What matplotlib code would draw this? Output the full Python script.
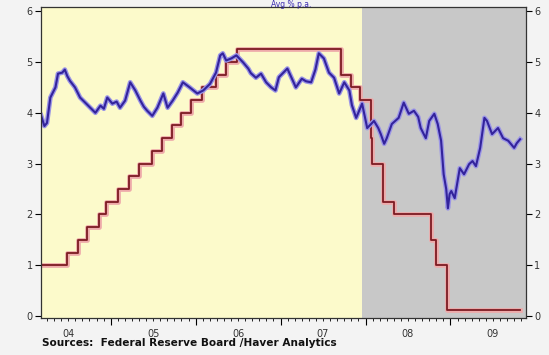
import matplotlib
matplotlib.use("Agg")
import matplotlib.pyplot as plt
import matplotlib.patheffects as pe
import numpy as np

# 10-year Treasury yield, % (decimal year, value)
tsy_year = [
    2004.18, 2004.22, 2004.25, 2004.29, 2004.35, 2004.38, 2004.43, 2004.46,
    2004.49, 2004.52, 2004.58, 2004.64, 2004.70, 2004.76, 2004.82, 2004.88,
    2004.92, 2004.96, 2005.02, 2005.07, 2005.11, 2005.17, 2005.23, 2005.29,
    2005.35, 2005.39, 2005.43, 2005.49, 2005.55, 2005.62, 2005.67, 2005.73,
    2005.79, 2005.85, 2005.93, 2006.02, 2006.09, 2006.17, 2006.24, 2006.29,
    2006.32, 2006.36, 2006.42, 2006.48, 2006.56, 2006.62, 2006.65, 2006.71,
    2006.77, 2006.83, 2006.89, 2006.94, 2006.98, 2007.08, 2007.14, 2007.18,
    2007.25, 2007.30, 2007.36, 2007.41, 2007.45, 2007.51, 2007.57, 2007.63,
    2007.69, 2007.75, 2007.81, 2007.84, 2007.89, 2007.96, 2008.02, 2008.10,
    2008.15, 2008.18, 2008.22, 2008.25, 2008.31, 2008.39, 2008.45, 2008.51,
    2008.57, 2008.62, 2008.65, 2008.71, 2008.75, 2008.81, 2008.85, 2008.89,
    2008.92, 2008.95, 2008.97, 2008.99, 2009.01, 2009.05, 2009.11, 2009.16,
    2009.22, 2009.26, 2009.30, 2009.35, 2009.40, 2009.43, 2009.49, 2009.56,
    2009.62, 2009.68, 2009.75, 2009.78, 2009.82,
]
tsy_rate = [
    3.95, 3.74, 3.80, 4.30, 4.50, 4.77, 4.79, 4.85,
    4.72, 4.63, 4.50, 4.30, 4.20, 4.10, 4.00, 4.14,
    4.08, 4.30, 4.18, 4.22, 4.10, 4.24, 4.60, 4.44,
    4.24, 4.12, 4.04, 3.94, 4.10, 4.38, 4.10, 4.24,
    4.40, 4.60, 4.50, 4.38, 4.44, 4.57, 4.79, 5.13,
    5.17, 5.03, 5.07, 5.13, 4.99, 4.87, 4.78, 4.69,
    4.77, 4.60, 4.50, 4.44, 4.70, 4.87, 4.65, 4.50,
    4.67, 4.62, 4.60, 4.85, 5.17, 5.07, 4.79, 4.69,
    4.38, 4.60, 4.44, 4.15, 3.90, 4.18, 3.70, 3.84,
    3.70, 3.58, 3.39, 3.50, 3.78, 3.90, 4.20, 3.98,
    4.04, 3.92, 3.70, 3.50, 3.84, 3.98, 3.78, 3.45,
    2.79, 2.50, 2.12, 2.40, 2.46, 2.32, 2.91, 2.79,
    2.99, 3.05, 2.95, 3.31, 3.90, 3.84, 3.58, 3.70,
    3.50, 3.45, 3.31, 3.40, 3.48,
]

# Federal funds target rate, % (change dates as decimal years)
ff_year = [
    2004.18, 2004.49, 2004.61, 2004.72, 2004.86, 2004.95, 2005.09, 2005.22,
    2005.33, 2005.49, 2005.60, 2005.72, 2005.83, 2005.95, 2006.08, 2006.24,
    2006.36, 2006.49, 2007.71, 2007.83, 2007.94, 2008.06, 2008.08, 2008.21,
    2008.33, 2008.77, 2008.83, 2008.96, 2009.82,
]
ff_rate = [
    1.00, 1.25, 1.50, 1.75, 2.00, 2.25, 2.50, 2.75,
    3.00, 3.25, 3.50, 3.75, 4.00, 4.25, 4.50, 4.75,
    5.00, 5.25, 4.75, 4.50, 4.25, 3.50, 3.00, 2.25,
    2.00, 1.50, 1.00, 0.125, 0.125,
]

year_labels = ["04", "05", "06", "07", "08", "09"]
recession_start = 2007.96

x_min, x_max = 2004.18, 2009.89

fig = plt.figure(figsize=(5.49, 3.55), dpi=100, facecolor="#f3f3f3")
ax = fig.add_axes([0.0747, 0.104, 0.8835, 0.876])

ax.axvspan(x_min, recession_start, color="#fcfacb", lw=0)
ax.axvspan(recession_start, x_max, color="#c8c8c8", lw=0)

ax.step(ff_year, ff_rate, where="post", color="#7d1a22", lw=1.3,
        path_effects=[pe.Stroke(linewidth=3.4, foreground="#eeaaaa"), pe.Normal()])
ax.plot(tsy_year, tsy_rate, color="#33239c", lw=1.5,
        path_effects=[pe.Stroke(linewidth=3.4, foreground="#9a94e6"), pe.Normal()])

ax.set_xlim(x_min, x_max)
ax.set_ylim(-0.04, 6.08)

ax.set_yticks(range(0, 7))
ax.tick_params(axis="y", which="both", direction="out", length=4, width=0.8,
               labelsize=7, labelcolor="#333333", left=True, right=True,
               labelleft=True, labelright=True, pad=2)

ax.set_xticks(np.arange(2005, 2010), labels=[])
ax.set_xticks(np.arange(2004.25, 2009.9, 1 / 12), minor=True)
ax.tick_params(axis="x", which="major", direction="out", length=5, width=0.8)
ax.tick_params(axis="x", which="minor", direction="out", length=2.5, width=0.6)

for i, lab in enumerate(year_labels):
    ax.text(2004.5 + i, -0.035, lab, transform=ax.get_xaxis_transform(),
            ha="center", va="top", fontsize=7, color="#333333")

for side in ["left", "bottom", "right", "top"]:
    ax.spines[side].set_color("#333333")
    ax.spines[side].set_linewidth(0.9)

fig.text(0.53, 0.999, "Avg % p.a.", ha="center", va="top", fontsize=5.5, color="#3b2ab0")
fig.text(0.076, 0.02, "Sources:  Federal Reserve Board /Haver Analytics",
         ha="left", va="bottom", fontsize=7.6, fontweight="bold", color="#111111")

fig.savefig("out.png", dpi=100, facecolor=fig.get_facecolor())
